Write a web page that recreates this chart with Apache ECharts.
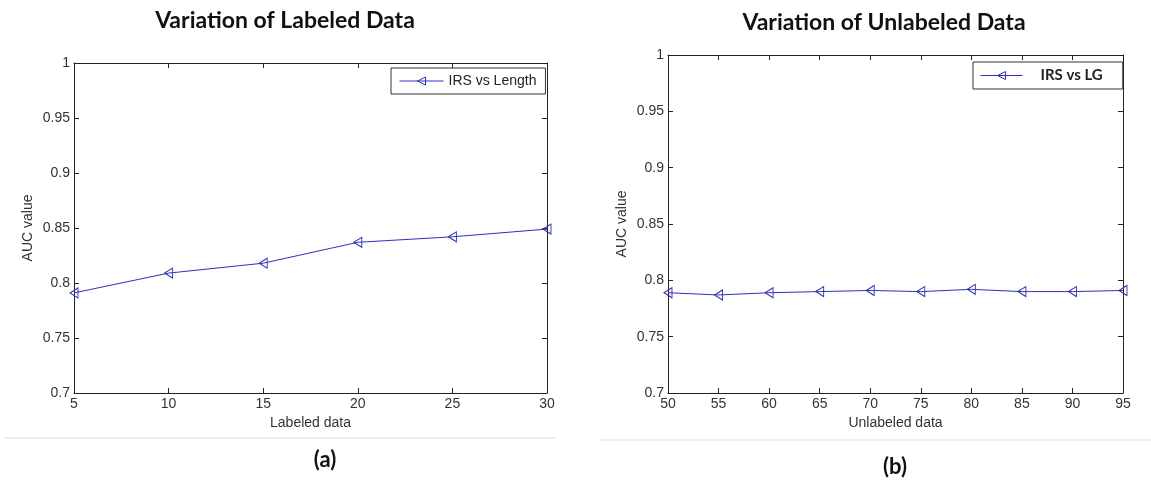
<!DOCTYPE html>
<html>
<head>
<meta charset="utf-8">
<script src="https://cdn.jsdelivr.net/npm/echarts@6/dist/echarts.min.js"></script>
<style>
html, body { margin: 0; padding: 0; background: #fff; }
#main { width: 1151px; height: 482px; }
</style>
</head>
<body>
<div id="main"></div>
<script>
// left panel: labeled data
var labeledX = [5, 10, 15, 20, 25, 30];
var labeledAUC = [0.791, 0.809, 0.818, 0.837, 0.842, 0.849];
// right panel: unlabeled data
var unlabeledX = [50, 55, 60, 65, 70, 75, 80, 85, 90, 95];
var unlabeledAUC = [0.789, 0.787, 0.789, 0.790, 0.791, 0.790, 0.792, 0.790, 0.790, 0.791];

var blue = '#3030bc'
var tri = 'path://M0,5L10,0L10,10Z'
var tickFont = { fontFamily: 'Liberation Sans', fontSize: 14, color: '#333' }
var nameFont = { fontFamily: 'Liberation Sans', fontSize: 14, color: '#333' }

function zip (xs, ys) {
  return xs.map(function (x, i) { return [x, ys[i]] })
}

// bottom/left axes with labels, top/right axes with ticks only (matlab box)
function xAx (grid, min, max, name, top) {
  return {
    type: 'value', gridIndex: grid, min: min, max: max, interval: 5,
    position: top ? 'top' : 'bottom',
    name: top ? '' : name, nameLocation: 'middle', nameGap: 22,
    nameTextStyle: nameFont,
    axisLine: { show: true, onZero: false, lineStyle: { color: '#222', width: 1 } },
    axisTick: { show: true, inside: true, length: 5, lineStyle: { color: '#222' } },
    axisLabel: { show: !top, margin: 4, ...tickFont },
    splitLine: { show: false }
  }
}
function yAx (grid, name, right) {
  return {
    type: 'value', gridIndex: grid, min: 0.7, max: 1, interval: 0.05,
    position: right ? 'right' : 'left',
    name: right ? '' : name, nameLocation: 'middle', nameGap: 39,
    nameTextStyle: nameFont,
    axisLine: { show: true, onZero: false, lineStyle: { color: '#222', width: 1 } },
    axisTick: { show: true, inside: true, length: 5, lineStyle: { color: '#222' } },
    axisLabel: { show: !right, margin: 4, ...tickFont },
    splitLine: { show: false }
  }
}
function lineSeries (name, xi, yi, data) {
  return {
    name: name, type: 'line', xAxisIndex: xi, yAxisIndex: yi,
    data: data, symbol: tri, symbolSize: [8, 10], showAllSymbol: true,
    lineStyle: { color: blue, width: 1 },
    itemStyle: { color: 'rgba(255,255,255,0)', borderColor: blue, borderWidth: 1 },
    animation: false
  }
}
// legend box in matlab style, hollow marker on a thin line
function legendBox (name, left, top, w, pad, text) {
  return {
    data: [name], left: left, top: top, orient: 'vertical',
    itemWidth: w, itemHeight: 10, padding: pad,
    borderColor: '#333', borderWidth: 1, backgroundColor: '#fff',
    itemStyle: { color: 'rgba(255,255,255,0)', borderColor: blue, borderWidth: 1 },
    lineStyle: { color: blue, width: 1 },
    textStyle: text
  }
}

var chart = echarts.init(document.getElementById('main'))
chart.setOption({
  backgroundColor: '#fff',
  animation: false,
  title: [
    { text: 'Variation of Labeled Data', left: 280, top: 4, textAlign: 'center',
      textStyle: { fontFamily: 'Lato', fontWeight: 'bold', fontSize: 23, color: '#111' } },
    { text: 'Variation of Unlabeled Data', left: 879, top: 6, textAlign: 'center',
      textStyle: { fontFamily: 'Lato', fontWeight: 'bold', fontSize: 23, color: '#111' } },
    { text: '(a)', left: 320, top: 444, textAlign: 'center',
      textStyle: { fontFamily: 'Lato', fontWeight: 'bold', fontSize: 22, color: '#111' } },
    { text: '(b)', left: 890, top: 451, textAlign: 'center',
      textStyle: { fontFamily: 'Lato', fontWeight: 'bold', fontSize: 22, color: '#111' } }
  ],
  legend: [
    legendBox('IRS vs Length', 391, 68, 44, [6, 9, 6, 8],
      { fontFamily: 'Liberation Sans', fontSize: 14, color: '#222' }),
    legendBox('IRS vs LG', 973, 62, 42, [6, 20, 6, 7],
      { fontFamily: 'Lato', fontWeight: 'bold', fontSize: 15, color: '#222', padding: [0, 0, 0, 13] })
  ],
  grid: [
    { left: 74, top: 63, width: 473, height: 330 },
    { left: 668, top: 55, width: 455, height: 338 }
  ],
  xAxis: [
    xAx(0, 5, 30, 'Labeled data', false),
    xAx(0, 5, 30, '', true),
    xAx(1, 50, 95, 'Unlabeled data', false),
    xAx(1, 50, 95, '', true)
  ],
  yAxis: [
    yAx(0, 'AUC value', false),
    yAx(0, '', true),
    yAx(1, 'AUC value', false),
    yAx(1, '', true)
  ],
  series: [
    lineSeries('IRS vs Length', 0, 0, zip(labeledX, labeledAUC)),
    lineSeries('IRS vs LG', 2, 2, zip(unlabeledX, unlabeledAUC))
  ],
  graphic: [
    { type: 'line', shape: { x1: 5, y1: 438, x2: 555, y2: 438 }, style: { stroke: '#ddd', lineWidth: 1 } },
    { type: 'line', shape: { x1: 600, y1: 440, x2: 1151, y2: 440 }, style: { stroke: '#ddd', lineWidth: 1 } }
  ]
})
</script>
</body>
</html>
